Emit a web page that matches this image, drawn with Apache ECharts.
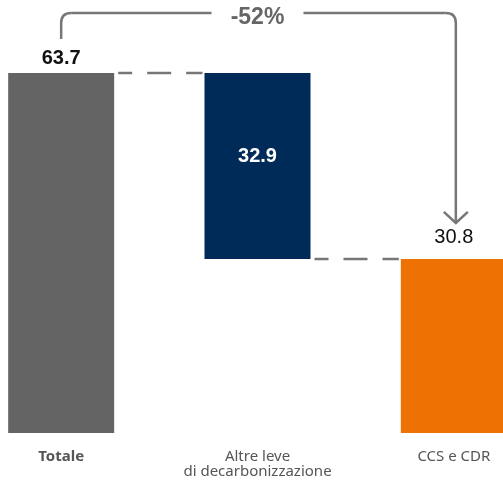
<!DOCTYPE html>
<html>
<head>
<meta charset="utf-8">
<script src="https://cdn.jsdelivr.net/npm/echarts@6/dist/echarts.min.js"></script>
<style>
  html, body { margin: 0; padding: 0; background: #fff; }
  #main { width: 503px; height: 484px; }
</style>
</head>
<body>
<div id="main"></div>
<script>
// dati
const categories = ['Totale', 'Altre leve\ndi decarbonizzazione', 'CCS e CDR'];
const values = [63.7, 32.9, 30.8];
const bases = [0, 30.8, 0];
const changeLabel = '-52%';

const barColors = ['#646464', '#002B59', '#EE7203'];
const lineGray = '#777777';

const chart = echarts.init(document.getElementById('main'));

const option = {
  animation: false,
  grid: { left: -37, width: 589, top: 73, height: 360, outerBoundsMode: 'none', containLabel: false },
  xAxis: {
    type: 'category',
    data: categories,
    axisLine: { show: false },
    axisTick: { show: false },
    axisLabel: {
      interval: 0,
      margin: 16,
      fontFamily: 'Noto Sans',
      fontSize: 15,
      lineHeight: 15,
      color: '#555',
      formatter: (v, i) => (i === 0 ? '{b|' + v + '}' : v),
      rich: { b: { fontWeight: 'bold', fontFamily: 'Noto Sans', fontSize: 15, color: '#555' } }
    }
  },
  yAxis: { type: 'value', min: 0, max: 63.7, show: false },
  series: [
    {
      type: 'bar',
      stack: 'w',
      barWidth: 106,
      itemStyle: { color: 'transparent' },
      emphasis: { disabled: true },
      data: bases
    },
    {
      type: 'bar',
      stack: 'w',
      barWidth: 106,
      data: values.map((v, i) => {
        const item = { value: v, itemStyle: { color: barColors[i] } };
        if (i === 0) {
          item.label = { position: 'top', distance: 5, fontWeight: 'bold', color: '#111' };
        } else if (i === 1) {
          item.label = { position: 'inside', offset: [0, -9], fontWeight: 'bold', color: '#fff' };
        } else {
          item.label = { position: 'top', distance: 11, fontWeight: 'normal', color: '#111' };
        }
        return item;
      }),
      label: {
        show: true,
        fontFamily: 'Liberation Sans',
        fontSize: 20,
        formatter: p => p.value.toFixed(1)
      }
    }
  ]
};
chart.setOption(option);

// annotazioni: connettori tratteggiati e freccia
const px = (i, v) => chart.convertToPixel({ gridIndex: 0 }, [i, v]);
const half = 53;
const p0 = px(0, values[0]);
const p1 = px(1, bases[1]);
const p2 = px(2, values[2]);
const c1 = px(1, 0)[0];

const dash = { stroke: lineGray, lineWidth: 2.5, lineDash: [24, 15], lineDashOffset: 10 };
const solid = { stroke: lineGray, lineWidth: 2.5, fill: 'none' };
const topY = p0[1] - 60;
const r = 10;
const gapHalf = 46;

chart.setOption({
  graphic: [
    { type: 'line', shape: { x1: p0[0] + half + 4, y1: p0[1], x2: p1[0] - half - 2, y2: p0[1] }, style: dash },
    { type: 'line', shape: { x1: p1[0] + half + 4, y1: p1[1], x2: p2[0] - half - 2, y2: p1[1] }, style: dash },
    { type: 'line', shape: { x1: p0[0], y1: p0[1] - 34, x2: p0[0], y2: topY + r }, style: solid },
    { type: 'bezierCurve', shape: { x1: p0[0], y1: topY + r, cpx1: p0[0], cpy1: topY, x2: p0[0] + r, y2: topY }, style: solid },
    { type: 'line', shape: { x1: p0[0] + r, y1: topY, x2: c1 - gapHalf, y2: topY }, style: solid },
    { type: 'line', shape: { x1: c1 + gapHalf, y1: topY, x2: p2[0] + 2 - r, y2: topY }, style: solid },
    { type: 'bezierCurve', shape: { x1: p2[0] + 2 - r, y1: topY, cpx1: p2[0] + 2, cpy1: topY, x2: p2[0] + 2, y2: topY + r }, style: solid },
    { type: 'line', shape: { x1: p2[0] + 2, y1: topY + r, x2: p2[0] + 2, y2: p2[1] - 36 }, style: solid },
    { type: 'polyline', shape: { points: [[p2[0] - 10, p2[1] - 47], [p2[0] + 2, p2[1] - 36], [p2[0] + 14, p2[1] - 47]] }, style: solid },
    {
      type: 'text',
      x: c1, y: topY + 5,
      style: {
        text: changeLabel,
        align: 'center',
        verticalAlign: 'middle',
        fontFamily: 'Liberation Sans',
        fontWeight: 'bold',
        fontSize: 23,
        fill: '#666'
      }
    }
  ]
});
</script>
</body>
</html>
